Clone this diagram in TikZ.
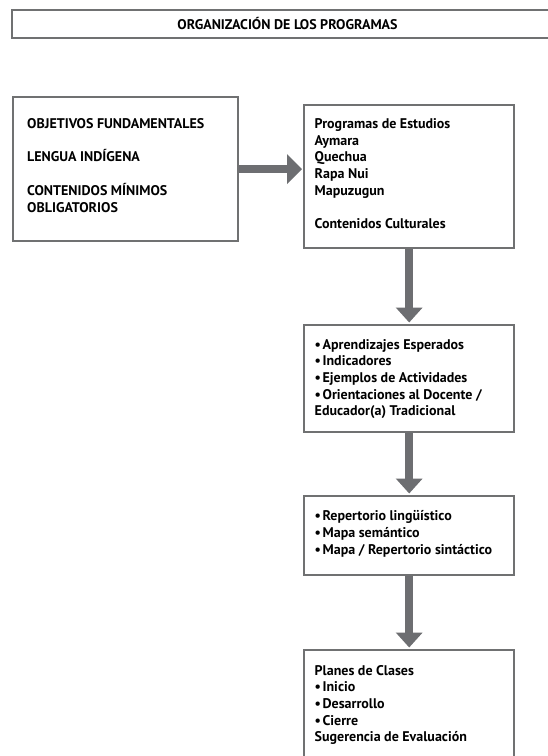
\documentclass[tikz,border=0pt]{standalone}
\usepackage{fontspec}
\setmainfont{PT Sans}
\usetikzlibrary{arrows.meta,shadows}
\definecolor{boxgray}{HTML}{707172}
\definecolor{arrowgray}{HTML}{6D6E71}
\newcommand{\bul}{•\kern1.6pt}
\begin{document}
\begin{tikzpicture}[x=1pt,y=-1pt,
  box/.style={draw=boxgray, line width=2.4pt, fill=white, inner sep=0pt, anchor=north west,
    drop shadow={shadow xshift=1pt, shadow yshift=-1pt, fill=black!25, opacity=0.6}},
  lbl/.style={anchor=base west, inner sep=0pt, text=black, font=\fontsize{14}{16}\selectfont\bfseries},
  bigarrow/.style={draw=arrowgray, line width=8pt, shorten >=1pt, -{Triangle[width=29pt,length=15pt]}},
  downarrow/.style={draw=arrowgray, line width=8pt, shorten >=1.5pt, -{Triangle[width=26pt,length=15pt]}}]
\useasboundingbox (0,0) rectangle (548,756);
\clip (0,0) rectangle (548,756);
\fill[white] (0,0) rectangle (548,756);
% title
\node[box, minimum width=570pt, minimum height=27.5pt] (title) at (11,9) {};
\node[anchor=base, inner sep=0pt, font=\fontsize{14}{16}\selectfont\bfseries] (ttl) at (287.5,29) {ORGANIZACIÓN DE LOS PROGRAMAS};
% boxes
\node[box, minimum width=225pt, minimum height=144pt] (obj) at (12,96) {};
\node[box, minimum width=210pt, minimum height=143pt] (prog) at (303,104) {};
\node[box, minimum width=210pt, minimum height=107pt] (apr) at (303,324) {};
\node[box, minimum width=210pt, minimum height=79pt] (rep) at (303,495) {};
\node[box, minimum width=210pt, minimum height=140pt] (plan) at (303,649) {};
% arrows
\draw[bigarrow] (obj.east) -- (prog.west |- obj.east);
\draw[downarrow] (prog.south) -- (apr.north);
\draw[downarrow] (apr.south) -- (rep.north);
\draw[downarrow] (rep.south) -- (plan.north);
% left box text
\node[lbl] (o1) at (27,128.5) {OBJETIVOS FUNDAMENTALES};
\node[lbl] (o2) at (27,161.9) {LENGUA INDÍGENA};
\node[lbl] (o3) at (27,195.3) {CONTENIDOS MÍNIMOS};
\node[lbl] (o4) at (27,212) {OBLIGATORIOS};
% programs box text
\node[lbl] (p1) at (314.5,128.5) {Programas de Estudios};
\node[lbl] (p2) at (314.5,145.2) {Aymara};
\node[lbl] (p3) at (314.5,161.9) {Quechua};
\node[lbl] (p4) at (314.5,178.6) {Rapa Nui};
\node[lbl] (p5) at (314.5,195.3) {Mapuzugun};
\node[lbl] (p6) at (314.5,228.7) {Contenidos Culturales};
% aprendizajes box text
\node[lbl] (a1) at (314.5,349) {\bul Aprendizajes Esperados};
\node[lbl] (a2) at (314.5,365.7) {\bul Indicadores};
\node[lbl] (a3) at (314.5,382.4) {\bul Ejemplos de Actividades};
\node[lbl] (a4) at (314.5,399.1) {\bul Orientaciones al Docente /};
\node[lbl] (a5) at (314.5,415.8) {Educador(a) Tradicional};
% repertorio box text
\node[lbl] (r1) at (314.5,520.7) {\bul Repertorio lingüístico};
\node[lbl] (r2) at (314.5,537.4) {\bul Mapa semántico};
\node[lbl] (r3) at (314.5,554.1) {\bul Mapa / Repertorio sintáctico};
% planes box text
\node[lbl] (c1) at (314.5,675) {Planes de Clases};
\node[lbl] (c2) at (314.5,691.7) {\bul Inicio};
\node[lbl] (c3) at (314.5,708.4) {\bul Desarrollo};
\node[lbl] (c4) at (314.5,725.1) {\bul Cierre};
\node[lbl] (c5) at (314.5,741.8) {Sugerencia de Evaluación};
\end{tikzpicture}
\end{document}
